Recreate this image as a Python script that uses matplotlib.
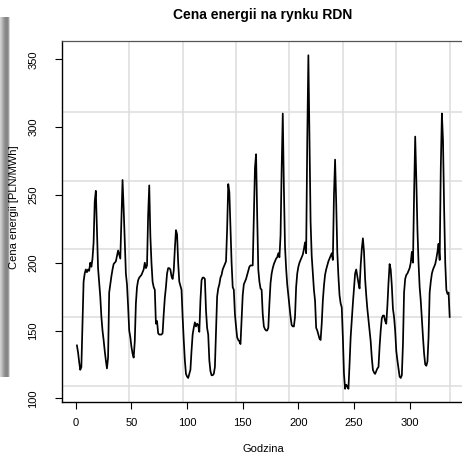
import numpy as np
import matplotlib
matplotlib.use('Agg')
import matplotlib.pyplot as plt

plt.rcParams['font.family'] = ['Liberation Sans', 'DejaVu Sans']

# hourly prices, two weeks (PLN/MWh)
week1 = [
    139, 134, 127, 121, 123, 155, 186, 192, 195, 193, 195, 194, 200, 197, 203, 215, 245, 253, 225, 196, 185, 175, 160, 150,
    143, 135, 128, 122, 130, 178, 184, 190, 195, 199, 200, 201, 205, 209, 206, 203, 232, 261, 240, 215, 192, 184, 168, 150,
    145, 138, 133, 130, 142, 170, 182, 187, 189, 190, 191, 193, 195, 200, 196, 198, 235, 257, 220, 200, 186, 182, 180, 155,
    157, 148, 147, 147, 147, 148, 162, 174, 182, 192, 196, 196, 195, 190, 188, 194, 210, 224, 221, 200, 186, 183, 180, 160,
    143, 128, 118, 116, 115, 118, 121, 135, 147, 152, 156, 153, 155, 154, 149, 172, 187, 189, 189, 188, 165, 152, 147, 128,
    120, 117, 117, 118, 123, 150, 175, 181, 184, 189, 191, 195, 197, 199, 201, 225, 258, 252, 225, 200, 182, 180, 162, 153,
    145, 143, 142, 140, 158, 176, 184, 186, 188, 191, 194, 197, 198, 198, 198, 235, 270, 280, 235, 195, 186, 181, 180, 162,
]
week2 = [
    153, 151, 150, 150, 152, 170, 185, 192, 196, 199, 201, 203, 204, 207, 204, 220, 270, 310, 255, 212, 196, 184, 176, 168,
    160, 154, 153, 153, 160, 182, 192, 197, 200, 202, 204, 206, 210, 215, 207, 290, 353, 290, 230, 205, 192, 180, 172, 152,
    150, 147, 144, 143, 155, 172, 183, 191, 195, 198, 201, 203, 205, 207, 202, 250, 276, 245, 208, 190, 176, 170, 167, 145,
    118, 107, 110, 109, 107, 125, 145, 158, 170, 181, 192, 195, 190, 185, 181, 198, 210, 218, 208, 188, 176, 166, 158, 150,
    142, 130, 121, 119, 118, 120, 122, 123, 138, 150, 159, 161, 161, 157, 155, 168, 185, 199, 195, 183, 166, 160, 150, 135,
    128, 122, 116, 115, 117, 140, 178, 188, 191, 192, 194, 196, 200, 208, 200, 250, 293, 262, 225, 200, 182, 172, 158, 145,
    133, 125, 124, 127, 145, 178, 186, 192, 195, 197, 199, 203, 208, 214, 202, 270, 310, 290, 240, 200, 180, 177, 178, 160,
]
price = week1 + week2
hours = np.arange(1, len(price) + 1)

x_ticks = [0, 50, 100, 150, 200, 250, 300]
y_ticks = [100, 150, 200, 250, 300, 350]

fig = plt.figure(figsize=(4.62, 4.57), dpi=100)

# grey shadow strip on the left edge
sh = fig.add_axes([0, 80 / 457, 10 / 462, 360 / 457])
grad = np.array([[0.82, 0.76, 0.7, 0.64, 0.58, 0.54, 0.52, 0.53, 0.62, 0.85]])
sh.imshow(grad, cmap='gray', vmin=0, vmax=1, aspect='auto')
sh.axis('off')

ax = fig.add_axes([62 / 462, 54.7 / 457, 402.6 / 462, 361.3 / 457])
ax.plot(hours, price, color='black', lw=1.25)

ax.set_xlim(-12.4, 349.4)
ax.set_ylim(97.05, 363.5)
ax.set_xticks(x_ticks)
ax.set_yticks(y_ticks)
ax.set_xticks(np.arange(0, 337, 48), minor=True)
ax.set_yticks([109.3, 159.7, 210.1, 260.5, 310.9], minor=True)
ax.grid(which='minor', color='#dcdcdc', lw=1.1)
ax.grid(which='major', visible=False)
ax.set_axisbelow(True)
ax.tick_params(which='minor', length=0)
ax.tick_params(which='major', length=5, width=0.8, labelsize=8, color='black')
ax.tick_params(axis='x', pad=6)
ax.tick_params(axis='y', pad=12, labelrotation=90)
for t in ax.get_yticklabels():
    t.set_va('center')

ax.spines['right'].set_visible(False)
ax.spines['top'].set_color('#555555')
ax.spines['top'].set_linewidth(0.9)
ax.spines['left'].set_linewidth(1.0)
ax.spines['bottom'].set_linewidth(1.0)

fig.text(263 / 462, 1 - 15 / 457, 'Cena energii na rynku RDN', ha='center', va='center',
         fontsize=10, fontweight='bold')
fig.text(263 / 462, 1 - 449 / 457, 'Godzina', ha='center', va='center', fontsize=8)
fig.text(14 / 462, 1 - 207 / 457, 'Cena energii [PLN/MWh]', ha='center', va='center',
         rotation=90, fontsize=8)

fig.savefig('out.png', dpi=100)
